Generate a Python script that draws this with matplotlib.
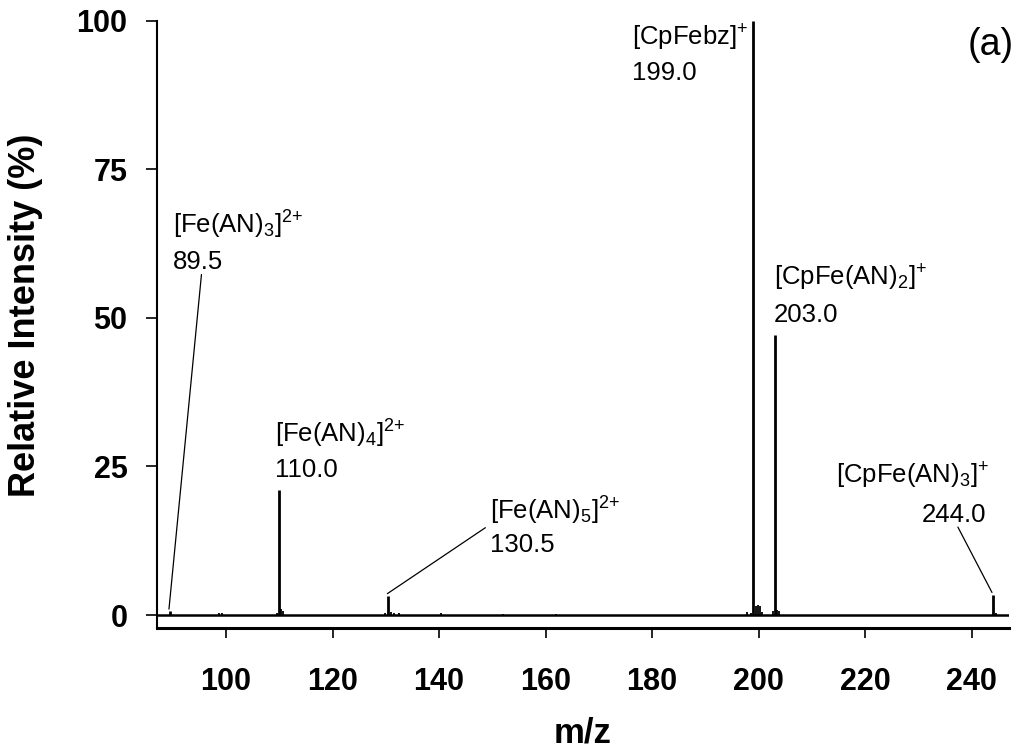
import matplotlib
matplotlib.use('Agg')
import matplotlib.pyplot as plt

plt.rcParams['font.family'] = ['Liberation Sans', 'DejaVu Sans']
plt.rcParams['mathtext.default'] = 'regular'

# labelled peaks (m/z, relative intensity %)
peak_mz = [89.5, 110.0, 130.5, 199.0, 203.0, 244.0]
peak_int = [0.6, 21.0, 3.2, 100.0, 47.2, 3.4]
peak_ion = [r'[Fe(AN)$_3$]$^{2{+}}$', r'[Fe(AN)$_4$]$^{2{+}}$', r'[Fe(AN)$_5$]$^{2{+}}$',
            r'[CpFebz]$^{+}$', r'[CpFe(AN)$_2$]$^{+}$', r'[CpFe(AN)$_3$]$^{+}$']

# small peaks along the baseline
minor_mz = [98.7, 99.3, 109.6, 110.4, 110.8, 129.9, 131.0, 131.6, 132.4,
            140.4, 152.0, 162.0, 197.8, 198.6, 199.5, 199.9, 200.3, 200.7,
            202.6, 203.5, 203.9, 244.6]
minor_int = [0.4, 0.3, 0.4, 1.1, 0.6, 0.3, 0.5, 0.4, 0.3,
             0.4, 0.2, 0.2, 0.5, 0.4, 1.5, 1.7, 1.6, 0.5,
             0.6, 0.9, 0.6, 0.3]

# label anchors (formula line, number line) and leader-line starts
lab_x = [90.1, 109.2, 149.5, 176.2, 202.8, 214.5]
lab_y = [64.2, 29.0, 16.0, 95.8, 55.5, 22.2]
num_x = [90.1, 109.2, 149.5, 176.2, 202.8, 230.6]
num_y = [58.2, 23.2, 10.6, 90.1, 49.3, 15.7]
lead = {0: (95.4, 57.3), 2: (148.7, 14.7), 5: (237.4, 14.8)}

fig = plt.figure(figsize=(10.29, 7.51), dpi=100)
ax = fig.add_axes([0.1523, 0.1644, 0.8283, 0.8080])

ax.axhline(0, color='black', lw=1.8, zorder=2)
ax.vlines(minor_mz, 0, minor_int, color='black', lw=1.3)
ax.vlines(peak_mz, 0, peak_int, color='black', lw=2.0)

for i in range(len(peak_mz)):
    ax.text(lab_x[i], lab_y[i], peak_ion[i], fontsize=18.5, ha='left', va='baseline')
    ax.text(num_x[i], num_y[i], '%.1f' % peak_mz[i], fontsize=18.5, ha='left', va='baseline')
    if i in lead:
        ax.annotate('', xy=(peak_mz[i] - 0.2, peak_int[i] + 0.4), xytext=lead[i],
                    arrowprops=dict(arrowstyle='-', color='black', lw=0.9,
                                    shrinkA=0, shrinkB=0))

ax.text(239.3, 94.2, '(a)', fontsize=27, ha='left', va='baseline')

ax.set_xlim(87, 247)
ax.set_ylim(-2.1, 100)
ax.set_xticks(range(100, 241, 20))
ax.set_yticks([0, 25, 50, 75, 100])

for s in ['top', 'right']:
    ax.spines[s].set_visible(False)
ax.spines['left'].set_linewidth(1.5)
ax.spines['bottom'].set_linewidth(2.2)

ax.tick_params(axis='y', direction='out', length=8, width=1.2, pad=13, labelsize=22)
ax.tick_params(axis='x', direction='out', length=7.5, width=1.2, pad=21, labelsize=22)
for t in ax.get_xticklabels() + ax.get_yticklabels():
    t.set_fontweight('bold')

ax.set_xlabel('m/z', fontsize=25, fontweight='bold')
ax.set_ylabel('Relative Intensity (%)', fontsize=26, fontweight='bold')
ax.xaxis.set_label_coords(0.5, -0.1474)
ax.yaxis.set_label_coords(-0.1334, 0.515)

fig.savefig('out.png', dpi=100)
